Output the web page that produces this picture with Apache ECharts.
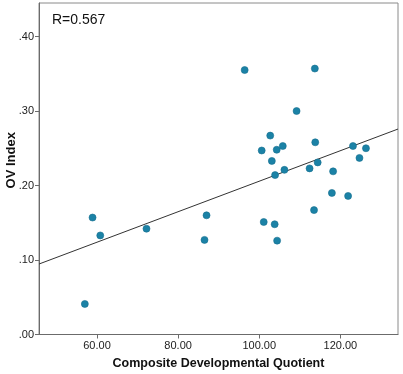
<!DOCTYPE html>
<html>
<head>
  <meta charset="utf-8">
  <script src="https://cdn.jsdelivr.net/npm/echarts@6/dist/echarts.min.js"></script>
  <style>
    html, body { margin: 0; padding: 0; background: #fff; }
    #chart { width: 403px; height: 374px; }
  </style>
</head>
<body>
<div id="chart"></div>
<script>
  // composite developmental quotient (x) vs OV index (y)
  const dqValues = [57.0, 58.9, 60.8, 72.2, 87.0, 86.5, 101.1, 103.8, 104.4, 113.5, 117.9, 121.9,
    96.4, 113.7, 109.2, 102.7, 100.6, 104.3, 105.8, 113.8, 103.1, 103.9, 106.2, 112.4, 114.4,
    118.2, 123.1, 126.3, 124.7]
  const ovValues = [0.041, 0.157, 0.133, 0.142, 0.160, 0.127, 0.151, 0.148, 0.126, 0.167, 0.190, 0.186,
    0.355, 0.357, 0.300, 0.267, 0.247, 0.248, 0.253, 0.258, 0.233, 0.214, 0.221, 0.223, 0.231,
    0.219, 0.253, 0.250, 0.237]

  // fit line ends
  const fitX = [45.7, 134.2]
  const fitY = [0.0946, 0.2758]

  const xTicks = [60, 80, 100, 120]
  const yTicks = [0, 0.1, 0.2, 0.3, 0.4]

  const axisColor = '#6b6b6b'
  const font = 'Liberation Sans, Arial, sans-serif'

  let chart = echarts.init(document.getElementById('chart'))

  let option = {
    backgroundColor: '#fff',
    animation: false,
    title: {
      text: 'R=0.567',
      left: 52,
      top: 13,
      padding: 0,
      textStyle: {fontFamily: font, fontSize: 14, fontWeight: 'normal', color: '#111'}
    },
    grid: {
      left: 39, top: 3, right: 5, bottom: 39.5,
      containLabel: false,
      outerBoundsMode: 'none',
      show: true, borderColor: '#8a8a8a', borderWidth: 1, backgroundColor: '#fff'
    },
    xAxis: {
      type: 'value',
      min: 45.7,
      max: 134.2,
      name: 'Composite Developmental Quotient',
      nameLocation: 'middle',
      nameGap: 23,
      nameMoveOverlap: false,
      nameTextStyle: {fontFamily: font, fontSize: 12.5, fontWeight: 'bold', color: '#111'},
      axisLine: {lineStyle: {color: axisColor}},
      axisTick: {show: true, length: 4, customValues: xTicks, lineStyle: {color: axisColor}},
      axisLabel: {
        customValues: xTicks, margin: 6,
        fontFamily: font, fontSize: 11, color: '#222',
        formatter: v => v.toFixed(2)
      },
      splitLine: {show: false}
    },
    yAxis: {
      type: 'value',
      min: 0,
      max: 0.445,
      name: 'OV Index',
      nameLocation: 'middle',
      nameGap: 21,
      nameMoveOverlap: false,
      nameTextStyle: {fontFamily: font, fontSize: 13, fontWeight: 'bold', color: '#111', padding: [0, 0, 0, 17]},
      axisLine: {show: true, lineStyle: {color: axisColor}},
      axisTick: {show: true, length: 4, customValues: yTicks, lineStyle: {color: axisColor}},
      axisLabel: {
        customValues: yTicks, margin: 5,
        fontFamily: font, fontSize: 11, color: '#222',
        formatter: v => v.toFixed(2).replace(/^0/, '')
      },
      splitLine: {show: false}
    },
    series: [
      {
        type: 'line',
        data: fitX.map((x, i) => [x, fitY[i]]),
        symbol: 'none',
        lineStyle: {color: '#333', width: 1},
        silent: true,
        z: 1
      },
      {
        type: 'scatter',
        data: dqValues.map((x, i) => [x, ovValues[i]]),
        symbolSize: 7,
        itemStyle: {color: '#1b82a6', borderColor: '#156f8f', borderWidth: 0.6, opacity: 1},
        z: 2
      }
    ]
  }
  chart.setOption(option)
</script>
</body>
</html>
